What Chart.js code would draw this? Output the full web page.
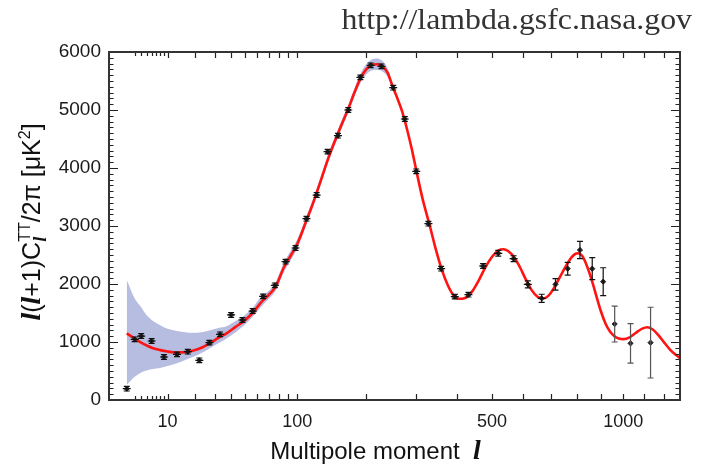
<!DOCTYPE html>
<html><head><meta charset="utf-8">
<script src="https://cdn.jsdelivr.net/npm/chart.js@4.4.1/dist/chart.umd.min.js"></script>
<style>html,body{margin:0;padding:0;background:#fff;}</style>
</head><body>
<canvas id="c" width="708" height="465"></canvas>
<script>
// ---------- data ----------
const pointL = [2,3,4,6,9,13,17,22,27,33,40,48,56,65,76,87,98,111,124,139,154,170,190,208,228,251,275,300,328,359,394,431,473,519,568,616,665,716,763,812,863,910,961,1034,1131];
const pointV = [195,1046,1103,1017,741,787,833,684,989,1132,1466,1379,1534,1787,1977,2385,2621,3126,3534,4282,4557,5000,5563,5770,5753,5385,4845,3943,3040,2264,1782,1816,2310,2529,2437,1994,1753,1994,2264,2586,2264,2040,1310,977,989];
const pointErr = [40,40,40,40,40,40,40,40,40,40,40,40,40,40,40,40,40,40,40,40,40,40,40,40,40,40,40,40,40,40,40,40,40,50,50,60,70,100,110,150,190,240,310,340,610];

const curveL = [2,3,4,5,6,8,10,13,16,19,23,27,32,37,43,49,56,63,70,77,85,93,100,110,120,130,140,150,160,170,180,190,200,210,220,230,240,250,260,270,280,290,300,315,330,345,360,375,390,405,420,440,460,480,500,520,535,550,570,590,610,630,650,670,690,710,740,770,790,805,820,840,860,880,900,920,940,960,980,1000,1030,1060,1090,1115,1140,1170,1200,1230,1260,1285];
const curveV = [1150,1060,990,940,900,860,835,818,825,850,900,975,1070,1150,1260,1360,1500,1680,1810,1960,2280,2500,2690,3060,3420,3800,4170,4480,4760,5020,5300,5540,5700,5775,5790,5755,5640,5400,5190,4960,4660,4330,3960,3450,3040,2620,2260,1990,1810,1745,1755,1860,2060,2290,2470,2580,2600,2570,2460,2280,2070,1890,1780,1750,1800,1930,2180,2410,2510,2530,2490,2320,2080,1800,1530,1320,1180,1100,1060,1050,1080,1160,1230,1255,1220,1120,990,870,780,720];

const bandL = [2,3,4,5,6,8,10,13,16,19,23,27,32,37,43,49,56,63,70,77,85,93,100,110,120,130,140,150,160,170,180,190,200,210,220,230,240,250,260,270,280];
const bandLow = [260,400,475,510,530,550,585,632,690,740,810,890,980,1060,1170,1280,1430,1600,1740,1890,2200,2420,2610,2990,3350,3730,4100,4410,4690,4950,5230,5460,5610,5680,5690,5665,5570,5350,5150,4930,4640];
const bandHigh = [2070,1750,1600,1460,1380,1290,1230,1190,1170,1160,1170,1200,1240,1270,1360,1450,1590,1780,1880,2040,2360,2580,2770,3130,3490,3870,4240,4550,4830,5090,5370,5620,5790,5870,5890,5845,5710,5450,5230,4990,4680];

const xLabelTicks = [10, 100, 500, 1000];
const xMinorTicks = [3,4,5,6,7,8,9,10,20,30,40,50,60,70,80,90,100,200,300,400,500,600,700,800,900,1000,1100,1200];
const yMin = 0, yMax = 6000, yMajorStep = 1000, yMinorStep = 100;
const xMin = 0.572, xMax = 1283;

// ---------- x scale: pixel position proportional to l^0.4 ----------
const P = 0.4;
class PowerScale extends Chart.Scale {
  determineDataLimits() { this.min = this.options.min; this.max = this.options.max; }
  buildTicks() { return xLabelTicks.map(v => ({ value: v })); }
  getLabelForValue(v) { return String(v); }
  configure() { super.configure(); this._u0 = Math.pow(this.min, P); this._u1 = Math.pow(this.max, P); }
  getPixelForValue(v) { return this.getPixelForDecimal((Math.pow(v, P) - this._u0) / (this._u1 - this._u0)); }
  getValueForPixel(px) { return Math.pow(this._u0 + this.getDecimalForPixel(px) * (this._u1 - this._u0), 1 / P); }
}
PowerScale.id = 'power';
PowerScale.defaults = {};
Chart.register(PowerScale);

const SANS = '"Liberation Sans", Arial, Helvetica, sans-serif';
const SERIF = '"Liberation Serif", "Times New Roman", serif';

function drawRich(ctx, segs) {
  let w = 0;
  segs.forEach(s => { ctx.font = s.f; s.w = ctx.measureText(s.t).width; if (!s.noAdvance) w += s.w; });
  let x = -w / 2;
  segs.forEach(s => { ctx.font = s.f; ctx.fillText(s.t, x, s.dy || 0); if (!s.noAdvance) x += s.w; });
}

const framePlugin = {
  id: 'frame',
  afterDatasetsDraw(chart) {
    const { ctx, chartArea: a, scales: { x, y } } = chart;
    ctx.save();
    // error bars
    const meta = chart.getDatasetMeta(3);
    meta.data.forEach((el, i) => {
      const e = pointErr[i];
      const yl = y.getPixelForValue(pointV[i] - e), yh = y.getPixelForValue(pointV[i] + e);
      ctx.strokeStyle = e > 250 ? '#555' : '#111';
      ctx.lineWidth = 1.2;
      ctx.beginPath();
      ctx.moveTo(el.x, yl); ctx.lineTo(el.x, yh);
      ctx.moveTo(el.x - 3, yl); ctx.lineTo(el.x + 3, yl);
      ctx.moveTo(el.x - 3, yh); ctx.lineTo(el.x + 3, yh);
      if (e < 100) { ctx.moveTo(el.x - 4, el.y); ctx.lineTo(el.x + 4, el.y); }
      ctx.stroke();
    });
    // inward tick marks
    ctx.strokeStyle = '#222'; ctx.lineWidth = 1.2;
    ctx.beginPath();
    xMinorTicks.forEach(v => {
      const px = Math.round(x.getPixelForValue(v)) + 0.5;
      const len = v < 10 ? 4 : 6;
      ctx.moveTo(px, a.bottom); ctx.lineTo(px, a.bottom - len);
      ctx.moveTo(px, a.top); ctx.lineTo(px, a.top + len);
    });
    for (let v = yMin; v <= yMax; v += yMinorStep) {
      const py = Math.round(y.getPixelForValue(v)) + 0.5;
      const len = v % yMajorStep === 0 ? 9 : 4.5;
      ctx.moveTo(a.left, py); ctx.lineTo(a.left + len, py);
      ctx.moveTo(a.right, py); ctx.lineTo(a.right - len, py);
    }
    ctx.stroke();
    ctx.strokeStyle = '#333'; ctx.lineWidth = 2;
    ctx.strokeRect(a.left, a.top, a.width, a.height);
    ctx.restore();
  },
  afterDraw(chart) {
    const { ctx, chartArea: a } = chart;
    ctx.save();
    ctx.textBaseline = 'alphabetic';
    // URL
    ctx.save();
    ctx.fillStyle = '#333';
    ctx.textAlign = 'right';
    ctx.translate(a.right + 12, 29);
    ctx.scale(1.06, 1);
    ctx.font = '30px ' + SERIF;
    ctx.fillText('http://lambda.gsfc.nasa.gov', 0, 0);
    ctx.restore();
    // x title
    ctx.fillStyle = '#111';
    ctx.textAlign = 'left';
    ctx.save();
    ctx.translate((a.left + a.right) / 2 - 19, 459);
    drawRich(ctx, [
      { t: 'Multipole moment  ', f: '24px ' + SANS },
      { t: 'l', f: 'italic bold 28px ' + SERIF }
    ]);
    ctx.restore();
    // y title
    ctx.save();
    ctx.translate(40, (a.top + a.bottom) / 2 - 4);
    ctx.rotate(-Math.PI / 2);
    const sans = '25px ' + SANS, bi = 'italic bold 28px ' + SERIF;
    drawRich(ctx, [
      { t: 'l', f: bi },
      { t: '(', f: sans },
      { t: 'l', f: bi },
      { t: '+1)C', f: sans },
      { t: 'l', f: 'italic bold 18px ' + SERIF, dy: 6, noAdvance: true },
      { t: 'TT', f: '16px ' + SANS, dy: -10 },
      { t: '/2\u03c0 [\u03bcK', f: sans },
      { t: '2', f: '16px ' + SANS, dy: -10 },
      { t: ']', f: sans }
    ]);
    ctx.restore();
    ctx.restore();
  }
};

const pts = (xs, ys) => xs.map((l, i) => ({ x: l, y: ys[i] }));

new Chart(document.getElementById('c'), {
  type: 'scatter',
  data: {
    datasets: [
      { label: 'band high', data: pts(bandL, bandHigh), showLine: true, fill: '+1', backgroundColor: 'rgb(182,189,224)', borderWidth: 0, pointRadius: 0, cubicInterpolationMode: 'monotone', order: 3 },
      { label: 'band low', data: pts(bandL, bandLow), showLine: true, fill: false, borderWidth: 0, pointRadius: 0, cubicInterpolationMode: 'monotone', order: 4 },
      { label: 'best fit', data: pts(curveL, curveV), showLine: true, fill: false, borderColor: '#ff1414', borderWidth: 2.6, pointRadius: 0, cubicInterpolationMode: 'monotone', order: 1 },
      { label: 'data', data: pts(pointL, pointV), showLine: false, pointStyle: 'rectRot', pointRadius: 2.6, backgroundColor: '#222', borderColor: '#222', borderWidth: 1, order: 0 }
    ]
  },
  options: {
    responsive: false,
    animation: false,
    events: [],
    layout: { padding: { top: 52, right: 28, left: 0, bottom: 0 } },
    plugins: { legend: { display: false }, tooltip: { enabled: false }, title: { display: false } },
    scales: {
      x: {
        type: 'power', min: xMin, max: xMax,
        grid: { display: false, drawTicks: false }, border: { display: false },
        ticks: { autoSkip: false, maxRotation: 0, padding: 11, color: '#1a1a1a', font: { family: SANS, size: 18 } },
        afterFit(s) { s.height = 65; }
      },
      y: {
        type: 'linear', min: yMin, max: yMax,
        grid: { display: false, drawTicks: false }, border: { display: false },
        ticks: { stepSize: yMajorStep, padding: 8, color: '#1a1a1a', font: { family: SANS, size: 19 }, callback: v => String(v) },
        afterFit(s) { s.width = 109; }
      }
    }
  },
  plugins: [framePlugin]
});
</script>
</body></html>
